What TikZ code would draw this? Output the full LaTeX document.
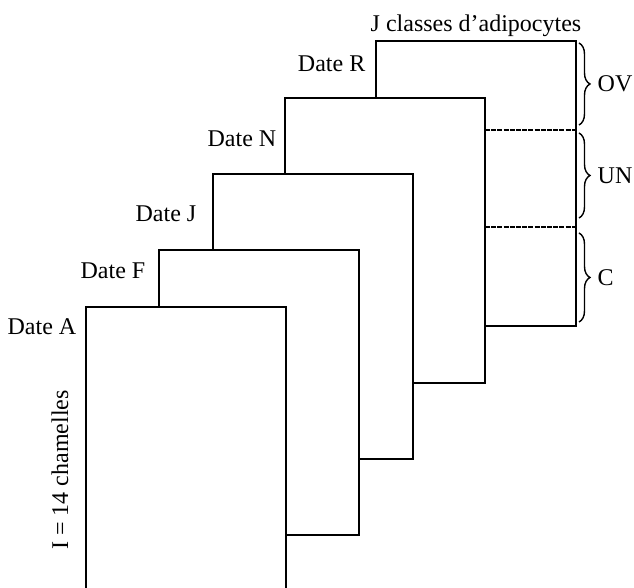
\documentclass[tikz,border=0pt]{standalone}
\usepackage{fontspec}
\setmainfont{Liberation Serif}
\usetikzlibrary{positioning,calc,decorations.pathreplacing}
\tikzset{
	stack/.style={x=0.5pt,y=-0.5pt,line width=0.7pt,
		font=\fontsize{12}{14}\selectfont},
	sheet/.style={rectangle,draw,fill=white,anchor=north west,inner sep=0pt,
		outer sep=0pt,minimum width=100pt,minimum height=142.5pt},
	datelabel/.style={anchor=base east,inner sep=0pt},
	classline/.style={line width=1.3pt,dash pattern=on 2.5pt off 0.6pt},
	classbrace/.style={decorate,decoration={brace,amplitude=5.5pt}},
	classname/.style={inner sep=0pt,right=9pt}
}

\begin{document}
\begin{tikzpicture}[stack]
	\useasboundingbox (0,0) rectangle (634,588);
	
	% sheets, back to front
	\node[sheet] (r) at (376,41) {};
	\node[sheet] (n) at (285,98) {};
	\node[sheet] (j) at (213,174) {};
	\node[sheet] (f) at (159,250) {};
	\node[sheet] (a) at (86,307) {};
	
	\node[datelabel] (labr) at (366,72) {Date R};
	\node[datelabel] (labn) at (277,147) {Date N};
	\node[datelabel] (labj) at (197,222) {Date J};
	\node[datelabel] (labf) at (146,279) {Date F};
	\node[datelabel] (laba) at (77,335) {Date A};
	
	\node[anchor=base,inner sep=0pt] (classes) at (476,32) {J classes d'adipocytes};
	\node[rotate=90,inner sep=0pt] (camels) at (60,470) {I = 14 chamelles};
	
	% limits between the classes
	\coordinate (cut1) at (0,130);
	\coordinate (cut2) at (0,227);
	\draw[classline] (n.east |- cut1) -- (r.east |- cut1);
	\draw[classline] (n.east |- cut2) -- (r.east |- cut2);
	
	\draw[classbrace] (579,43) -- (579,125) node[midway,classname] (ov) {OV};
	\draw[classbrace] (579,133) -- (579,218) node[midway,classname] (un) {UN};
	\draw[classbrace] (579,233) -- (579,322) node[midway,classname] (c) {C};
	
\end{tikzpicture}
\end{document}
